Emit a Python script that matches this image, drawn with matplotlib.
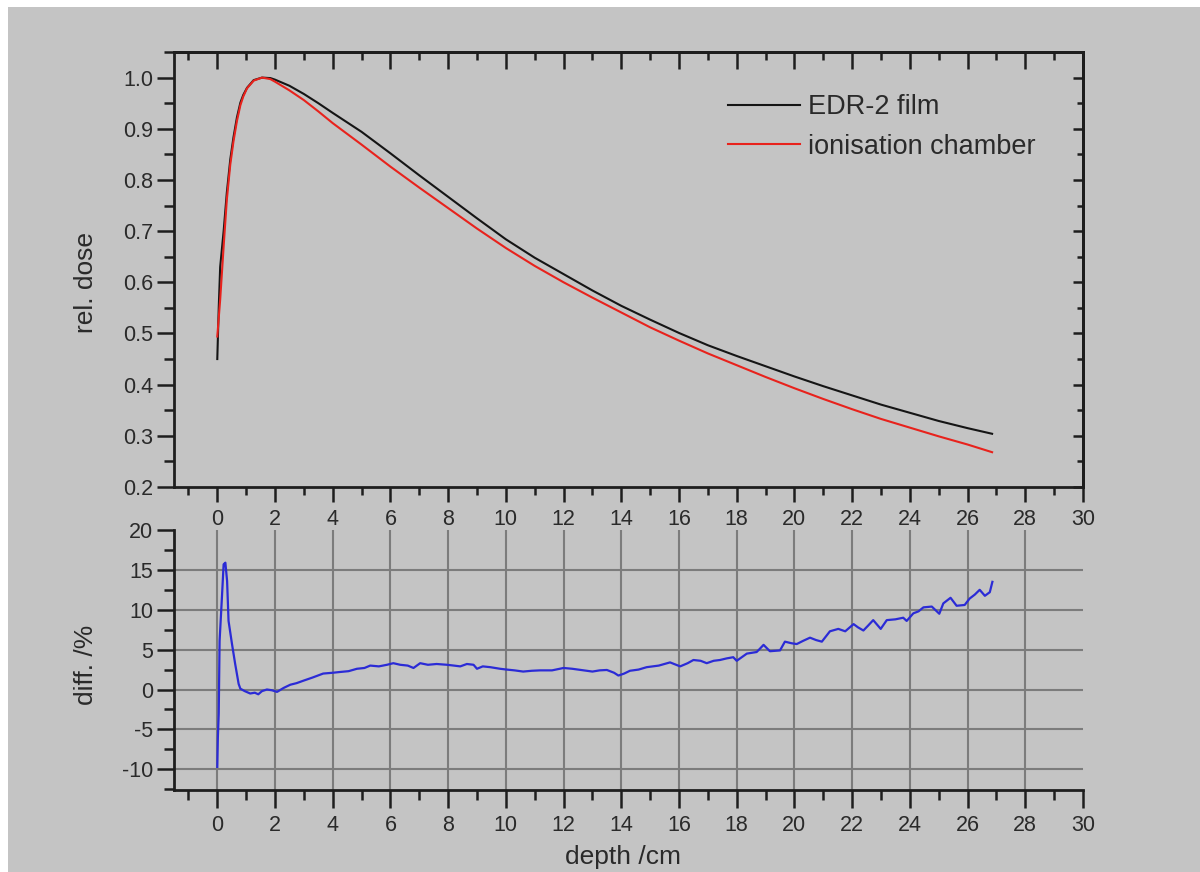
import matplotlib
matplotlib.use("Agg")
import matplotlib.pyplot as plt
from matplotlib.ticker import MultipleLocator, FormatStrFormatter
from matplotlib.patches import Rectangle

plt.rcParams["font.family"] = ["Liberation Sans", "DejaVu Sans"]
plt.rcParams["axes.unicode_minus"] = False

# ---- depth-dose curves (depth in cm, dose relative to maximum) ----
dose_depth = [0.0, 0.05, 0.1, 0.22, 0.33, 0.45, 0.56, 0.68, 0.8, 0.9, 1.03, 1.26,
              1.55, 1.84, 2.0, 2.5, 3.0, 3.5, 4.0, 5.0, 6.0, 7.0, 8.0, 9.0, 10.0,
              11.0, 12.0, 13.0, 14.0, 15.0, 16.0, 17.0, 18.0, 19.0, 20.0, 21.0,
              22.0, 23.0, 24.0, 25.0, 26.0, 26.85]
film_dose = [0.45, 0.55, 0.63, 0.70, 0.775, 0.84, 0.883, 0.922, 0.951, 0.966, 0.98,
             0.995, 1.0, 0.999, 0.996, 0.984, 0.968, 0.95, 0.931, 0.894, 0.852, 0.809,
             0.767, 0.725, 0.684, 0.648, 0.616, 0.584, 0.554, 0.527, 0.501, 0.477,
             0.456, 0.436, 0.416, 0.397, 0.379, 0.361, 0.345, 0.329, 0.315, 0.304]
chamber_dose = [0.494, 0.53, 0.566, 0.67, 0.761, 0.83, 0.875, 0.915, 0.946, 0.963,
                0.979, 0.994, 1.0, 0.997, 0.992, 0.975, 0.956, 0.934, 0.911, 0.869,
                0.826, 0.785, 0.745, 0.705, 0.667, 0.632, 0.600, 0.570, 0.541, 0.512,
                0.486, 0.461, 0.438, 0.415, 0.393, 0.372, 0.352, 0.333, 0.316, 0.299,
                0.283, 0.268]

# ---- relative difference film vs. chamber (%) ----
diff_depth = [0.0, 0.02, 0.05, 0.08, 0.16, 0.22, 0.28, 0.34, 0.39, 0.51,
              0.62, 0.74, 0.8, 0.95, 1.14, 1.3, 1.42, 1.55, 1.72, 1.9,
              2.07, 2.3, 2.53, 2.75, 2.98, 3.3, 3.67, 4.0, 4.26, 4.55,
              4.84, 5.1, 5.3, 5.6, 5.88, 6.1, 6.34, 6.6, 6.8, 7.03,
              7.3, 7.6, 7.96, 8.2, 8.42, 8.65, 8.88, 9.0, 9.2, 9.46,
              9.8, 10.03, 10.3, 10.6, 10.9, 11.19, 11.6, 12.0, 12.3, 12.6,
              13.0, 13.25, 13.5, 13.75, 13.9, 14.1, 14.3, 14.6, 14.88, 15.3,
              15.69, 16.04, 16.3, 16.5, 16.75, 16.96, 17.2, 17.42, 17.65, 17.88,
              18.0, 18.35, 18.69, 18.8, 18.93, 19.15, 19.5, 19.67, 19.9, 20.08,
              20.3, 20.54, 20.75, 20.95, 21.23, 21.52, 21.76, 22.05, 22.2, 22.39,
              22.55, 22.73, 22.99, 23.2, 23.5, 23.77, 23.89, 24.12, 24.3, 24.47,
              24.76, 25.02, 25.16, 25.41, 25.62, 25.9, 26.07, 26.25, 26.42, 26.6,
              26.77, 26.86]
diff_pct = [-9.7, -6.0, -3.0, 6.1, 11.5, 15.7, 15.9, 13.6, 8.6, 5.7,
            3.2, 0.7, 0.1, -0.2, -0.5, -0.4, -0.6, -0.2, 0.0, -0.1,
            -0.3, 0.2, 0.6, 0.8, 1.1, 1.5, 2.0, 2.1, 2.2, 2.3,
            2.6, 2.7, 3.0, 2.9, 3.1, 3.3, 3.1, 3.0, 2.7, 3.3,
            3.1, 3.2, 3.1, 3.0, 2.9, 3.2, 3.1, 2.6, 2.9, 2.8,
            2.6, 2.5, 2.4, 2.25, 2.35, 2.4, 2.4, 2.7, 2.6, 2.45,
            2.25, 2.4, 2.45, 2.1, 1.75, 2.0, 2.35, 2.5, 2.8, 3.0,
            3.4, 2.9, 3.3, 3.7, 3.6, 3.3, 3.6, 3.7, 3.9, 4.05,
            3.6, 4.5, 4.7, 5.1, 5.6, 4.8, 4.9, 6.0, 5.8, 5.7,
            6.1, 6.5, 6.2, 6.0, 7.3, 7.6, 7.3, 8.2, 7.8, 7.4,
            8.0, 8.7, 7.6, 8.7, 8.8, 9.0, 8.6, 9.55, 9.8, 10.3,
            10.4, 9.5, 10.8, 11.5, 10.5, 10.6, 11.4, 11.9, 12.5, 11.75,
            12.2, 13.5]

series_labels = ["EDR-2 film", "ionisation chamber"]

W, H = 1200, 872
BG = "#c4c4c4"
SPINE = "#1e1e1e"
TXT = "#2a2a2a"
GRID = "#7c7c7c"
TICK_FS = 15.5
LABEL_FS = 19
LEGEND_FS = 19.5

fig = plt.figure(figsize=(W / 100, H / 100), dpi=100, facecolor="white")
fig.patches.append(Rectangle((8 / W, 0), 1 - 8 / W, 1 - 7 / H,
                             transform=fig.transFigure, facecolor=BG,
                             edgecolor="none", zorder=-10))


def axes_px(left, top, right, bottom):
    return fig.add_axes([left / W, 1 - bottom / H, (right - left) / W, (bottom - top) / H])


ax1 = axes_px(174, 52, 1083, 487)
ax2 = axes_px(174, 530, 1083, 790)

for ax in (ax1, ax2):
    ax.set_facecolor(BG)
    ax.set_xlim(-1.5, 30)
    ax.xaxis.set_major_locator(MultipleLocator(2))
    ax.xaxis.set_minor_locator(MultipleLocator(1))
    ax.tick_params(axis="both", which="both", direction="out", colors=SPINE,
                   labelcolor=TXT, labelsize=TICK_FS, width=1.8)
    ax.tick_params(axis="x", which="major", length=11, pad=5)
    ax.tick_params(axis="x", which="minor", length=6)
    ax.tick_params(axis="y", which="major", length=12, pad=3)
    ax.tick_params(axis="y", which="minor", length=7)
    for s in ax.spines.values():
        s.set_linewidth(2)
        s.set_color(SPINE)

# ---- upper panel: depth-dose curves ----
ax1.set_ylim(0.2, 1.05)
ax1.yaxis.set_major_locator(MultipleLocator(0.1))
ax1.yaxis.set_minor_locator(MultipleLocator(0.05))
ax1.yaxis.set_major_formatter(FormatStrFormatter("%.1f"))

ax1.plot(dose_depth, film_dose, color="#151515", lw=1.5, label=series_labels[0])
ax1.plot(dose_depth, chamber_dose, color="#e8221c", lw=1.5, label=series_labels[1])

top = ax1.secondary_xaxis("top")
top.xaxis.set_major_locator(MultipleLocator(2))
top.xaxis.set_minor_locator(MultipleLocator(1))
top.tick_params(which="both", direction="in", labeltop=False, colors=SPINE, width=1.8)
top.tick_params(which="major", length=12)
top.tick_params(which="minor", length=6)
top.spines["top"].set_linewidth(2)

right = ax1.secondary_yaxis("right")
right.yaxis.set_major_locator(MultipleLocator(0.1))
right.yaxis.set_minor_locator(MultipleLocator(0.05))
right.tick_params(which="both", direction="in", labelright=False, colors=SPINE, width=1.8)
right.tick_params(which="major", length=7)
right.tick_params(which="minor", length=4)
right.spines["right"].set_linewidth(2)

ax1.set_ylabel("rel. dose", fontsize=LABEL_FS, color=TXT)
ax1.yaxis.set_label_coords(-0.084, 0.47)

ax1.legend(loc="upper left", bbox_to_anchor=(728 / W, 1 - 94 / H),
           bbox_transform=fig.transFigure, frameon=False, fontsize=LEGEND_FS,
           handlelength=2.65, handletextpad=0.3, labelspacing=0.5,
           borderpad=0, borderaxespad=0, labelcolor=TXT)

# ---- lower panel: difference ----
ax2.set_ylim(-12.6, 20)
ax2.yaxis.set_major_locator(MultipleLocator(5))
ax2.yaxis.set_minor_locator(MultipleLocator(2.5))
ax2.spines["top"].set_visible(False)
ax2.spines["right"].set_visible(False)
ax2.tick_params(axis="x", which="major", length=13, pad=5)
ax2.tick_params(axis="x", which="minor", length=7)

for gx in range(0, 29, 2):
    ax2.axvline(gx, color=GRID, lw=1.5, zorder=0)
for gy in range(-10, 16, 5):
    ax2.axhline(gy, color=GRID, lw=1.5, zorder=0)

ax2.plot(diff_depth, diff_pct, color="#2b2bd6", lw=1.6, zorder=3)

ax2.set_ylabel("diff. /%", fontsize=LABEL_FS, color=TXT)
ax2.yaxis.set_label_coords(-0.084, 0.48)
ax2.set_xlabel("depth /cm", fontsize=LABEL_FS, color=TXT)
ax2.xaxis.set_label_coords(0.494, -0.21)

fig.savefig("out.png", dpi=100, facecolor=fig.get_facecolor())
